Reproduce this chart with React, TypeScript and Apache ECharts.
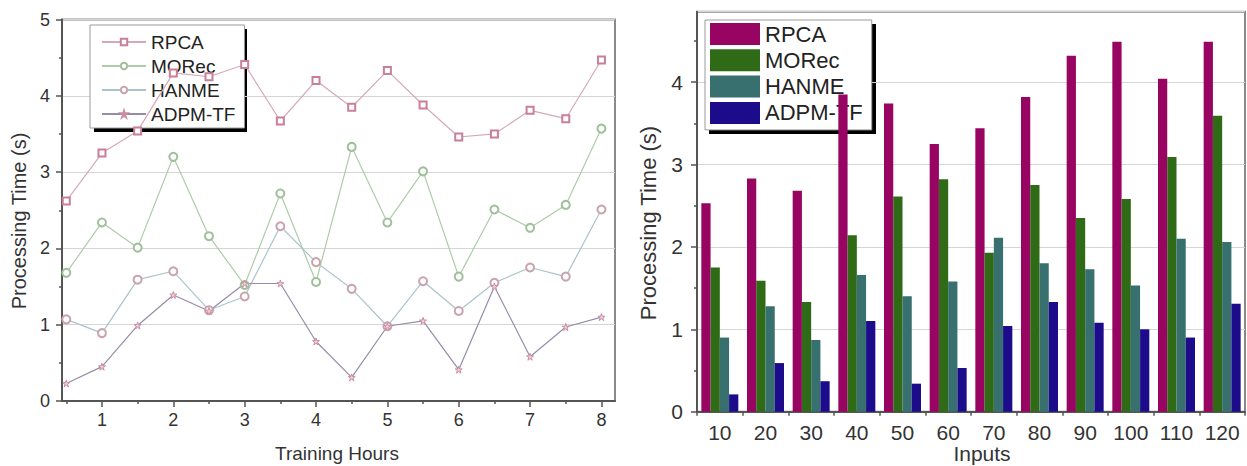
import React, { useEffect, useRef } from "react";
import * as echarts from "echarts";

// ---- Left chart data (line) ----
const hours = [0.5, 1, 1.5, 2, 2.5, 3, 3.5, 4, 4.5, 5, 5.5, 6, 6.5, 7, 7.5, 8];
const rpcaLine = [2.62, 3.25, 3.54, 4.3, 4.25, 4.41, 3.67, 4.2, 3.85, 4.33, 3.88, 3.46, 3.5, 3.81, 3.7, 4.47];
const morecLine = [1.68, 2.34, 2.01, 3.2, 2.16, 1.52, 2.72, 1.56, 3.33, 2.34, 3.01, 1.63, 2.51, 2.27, 2.57, 3.57];
const hanmeLine = [1.07, 0.89, 1.59, 1.7, 1.19, 1.37, 2.29, 1.82, 1.47, 0.98, 1.57, 1.18, 1.55, 1.75, 1.63, 2.51];
const adpmLine = [0.23, 0.45, 0.99, 1.39, 1.18, 1.54, 1.54, 0.78, 0.31, 0.98, 1.05, 0.41, 1.5, 0.58, 0.97, 1.1];
const hourTicks = [1, 2, 3, 4, 5, 6, 7, 8];
const hourMinorTicks = [0.5, 1.5, 2.5, 3.5, 4.5, 5.5, 6.5, 7.5];

// ---- Right chart data (bar) ----
const inputs = ["10", "20", "30", "40", "50", "60", "70", "80", "90", "100", "110", "120"];
const rpcaBar = [2.53, 2.83, 2.68, 3.85, 3.74, 3.25, 3.44, 3.82, 4.32, 4.49, 4.04, 4.49];
const morecBar = [1.75, 1.59, 1.33, 2.14, 2.61, 2.82, 1.93, 2.75, 2.35, 2.58, 3.09, 3.59];
const hanmeBar = [0.9, 1.28, 0.87, 1.66, 1.4, 1.58, 2.11, 1.8, 1.73, 1.53, 2.1, 2.06];
const adpmBar = [0.21, 0.59, 0.37, 1.1, 0.34, 0.53, 1.04, 1.33, 1.08, 1.0, 0.9, 1.31];
const barMinorTicks = [0.5, 1.5, 2.5, 3.5, 4.5];

const names = ["RPCA", "MORec", "HANME", "ADPM-TF"];

const FONT = "Liberation Sans";
const AXIS = "#555";
const STAR = "path://M5,0 L6.2,3.8 10,3.8 6.9,6.1 8.1,10 5,7.6 1.9,10 3.1,6.1 0,3.8 3.8,3.8Z";

function pairs(vals: number[]) {
  return hours.map((h, i) => [h, vals[i]]);
}

function buildOption(): any {
  const axisLine = { show: true, lineStyle: { color: AXIS, width: 2 } };
  const tickStyle = { color: AXIS, width: 1.5 };
  const label = (size: number, margin: number) => ({ fontSize: size, color: "#333", fontFamily: FONT, margin });

  const lineDefs = [
    { name: names[0], data: rpcaLine, color: "#d6a9b8", mark: "#c97f96", symbol: "emptyRect", size: 7 },
    { name: names[1], data: morecLine, color: "#adccA8", mark: "#9fc09a", symbol: "emptyCircle", size: 8 },
    { name: names[2], data: hanmeLine, color: "#a9c4cb", mark: "#c9a3ae", symbol: "emptyCircle", size: 8 },
    { name: names[3], data: adpmLine, color: "#958ca9", mark: "#c98ea0", symbol: STAR, size: 7 },
  ];
  const barDefs = [
    { name: names[0] + " ", data: rpcaBar, color: "#970461" },
    { name: names[1] + " ", data: morecBar, color: "#2f6a17" },
    { name: names[2] + " ", data: hanmeBar, color: "#37706f" },
    { name: names[3] + " ", data: adpmBar, color: "#1c0c8c" },
  ];

  return {
    animation: false,
    backgroundColor: "#fff",
    grid: [
      { left: 62, top: 19.5, width: 553, height: 381.5, show: true, borderColor: "#8a8a8a", borderWidth: 2 },
      { left: 697, top: 11.7, width: 548, height: 400, show: true, borderColor: "#8a8a8a", borderWidth: 2 },
    ],
    xAxis: [
      {
        type: "value", gridIndex: 0, min: 0.44, max: 8.19,
        axisLine,
        axisTick: { show: true, customValues: hourTicks, length: 6, lineStyle: tickStyle },
        axisLabel: { ...label(18, 10), customValues: hourTicks },
        splitLine: { show: false },
      },
      {
        type: "value", gridIndex: 0, position: "bottom", min: 0.44, max: 8.19,
        axisLine: { show: false },
        axisTick: { show: true, customValues: hourMinorTicks, length: 3, lineStyle: tickStyle },
        axisLabel: { show: false },
        splitLine: { show: false },
      },
      {
        type: "category", gridIndex: 1, data: inputs,
        axisLine,
        axisTick: { show: true, length: 4, interval: 0, lineStyle: tickStyle },
        axisLabel: { ...label(21, 10), interval: 0 },
        splitLine: { show: false },
      },
    ],
    yAxis: [
      {
        type: "value", gridIndex: 0, min: 0, max: 5, interval: 1,
        axisLine,
        axisTick: { show: true, length: 6, lineStyle: tickStyle },
        minorTick: { show: true, splitNumber: 2, length: 3, lineStyle: tickStyle },
        axisLabel: label(18, 12),
        splitLine: { show: true, lineStyle: { color: "#d6d6d6", width: 1 } },
      },
      {
        type: "value", gridIndex: 1, min: 0, max: 4.854, interval: 1,
        axisLine,
        axisTick: { show: true, length: 6, lineStyle: tickStyle },
        axisLabel: { ...label(21, 14), showMaxLabel: false },
        splitLine: { show: true, lineStyle: { color: "#d6d6d6", width: 1 } },
      },
      {
        type: "value", gridIndex: 1, position: "left", min: 0, max: 4.854,
        axisLine: { show: false },
        axisTick: { show: true, customValues: barMinorTicks, length: 3, lineStyle: tickStyle },
        axisLabel: { show: false },
        splitLine: { show: false },
      },
    ],
    legend: [
      {
        data: names,
        orient: "vertical",
        left: 90, top: 25,
        padding: [7, 9, 4, 11],
        itemWidth: 44, itemHeight: 8, itemGap: 4,
        backgroundColor: "#fff",
        borderColor: "#9a9a9a", borderWidth: 1,
        selectedMode: false,
        z: 1,
        textStyle: { fontSize: 19, lineHeight: 20, fontFamily: FONT, color: "#222" },
      },
      {
        data: barDefs.map((b) => b.name),
        orient: "vertical",
        left: 705, top: 20,
        padding: [3, 9, 6, 5],
        itemWidth: 50, itemHeight: 22, itemGap: 4.3,
        icon: "rect",
        backgroundColor: "#fff",
        borderColor: "#9a9a9a", borderWidth: 1,
        selectedMode: false,
        z: 1,
        formatter: (n: string) => n.trim(),
        textStyle: { fontSize: 22, lineHeight: 22, fontFamily: FONT, color: "#222" },
      },
    ],
    graphic: [
      { type: "rect", z: 0, shape: { x: 94, y: 29, width: 153, height: 103 }, style: { fill: "#000" } },
      { type: "rect", z: 0, shape: { x: 709, y: 24, width: 167, height: 110 }, style: { fill: "#000" } },
      {
        type: "text", x: 19, y: 221, rotation: Math.PI / 2, z: 5,
        style: { text: "Processing Time (s)", fontSize: 20, fontFamily: FONT, fill: "#333", align: "center", verticalAlign: "middle" },
      },
      {
        type: "text", x: 648, y: 223, rotation: Math.PI / 2, z: 5,
        style: { text: "Processing Time (s)", fontSize: 22, fontFamily: FONT, fill: "#333", align: "center", verticalAlign: "middle" },
      },
      {
        type: "text", x: 337, y: 453, z: 5,
        style: { text: "Training Hours", fontSize: 19, fontFamily: FONT, fill: "#333", align: "center", verticalAlign: "middle" },
      },
      {
        type: "text", x: 982, y: 453, z: 5,
        style: { text: "Inputs", fontSize: 21, fontFamily: FONT, fill: "#333", align: "center", verticalAlign: "middle" },
      },
    ],
    series: [
      ...lineDefs.map((d) => ({
        type: "line",
        name: d.name,
        xAxisIndex: 0, yAxisIndex: 0,
        data: pairs(d.data),
        symbol: d.symbol,
        symbolSize: d.size,
        showAllSymbol: true,
        z: 3,
        lineStyle: { color: d.color, width: 1.2 },
        itemStyle: d.symbol === STAR
          ? { color: "#efd0da", borderColor: d.mark, borderWidth: 1 }
          : { color: d.mark, borderWidth: 1.2 },
        emphasis: { disabled: true },
      })),
      ...barDefs.map((d) => ({
        type: "bar",
        name: d.name,
        xAxisIndex: 2, yAxisIndex: 1,
        data: d.data,
        barGap: "0%",
        barCategoryGap: "19%",
        z: 3,
        itemStyle: { color: d.color },
        emphasis: { disabled: true },
      })),
    ],
  };
}

export default function App() {
  const ref = useRef<HTMLDivElement>(null);
  useEffect(() => {
    if (!ref.current) return;
    const chart = echarts.init(ref.current, null, { renderer: "svg" });
    chart.setOption(buildOption());
    return () => chart.dispose();
  }, []);
  return <div ref={ref} style={{ position: "absolute", left: 0, top: 0, width: 1247, height: 466 }} />;
}
